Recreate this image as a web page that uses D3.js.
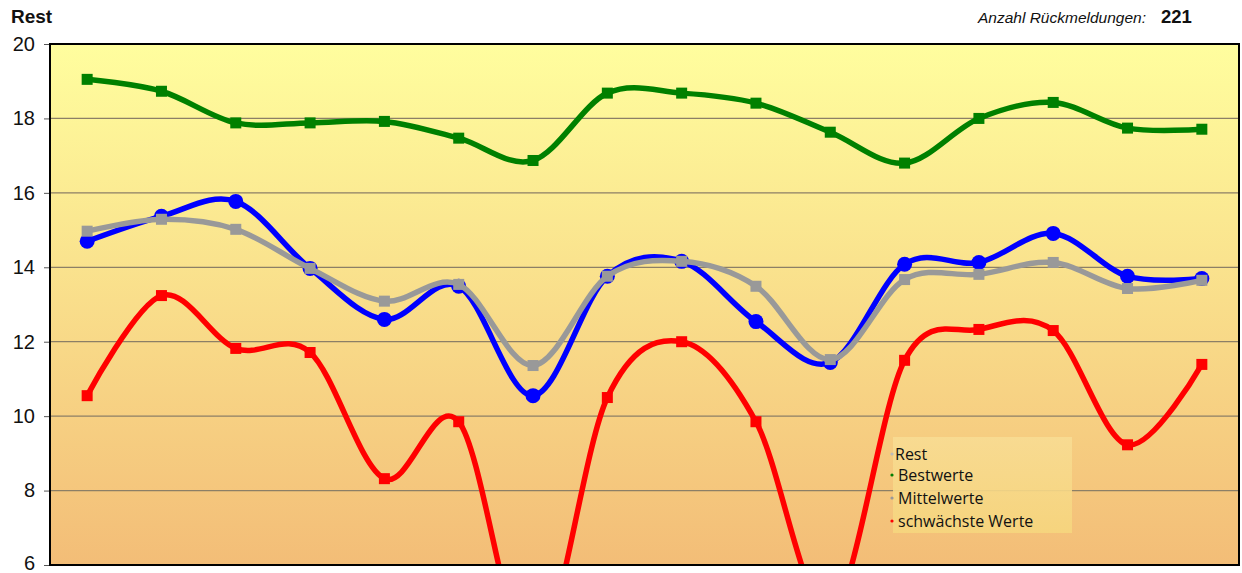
<!DOCTYPE html>
<html><head><meta charset="utf-8">
<script src="https://cdn.jsdelivr.net/npm/d3@7"></script>
<style>body{margin:0;background:#fff}svg{display:block}</style>
</head><body>
<svg id="c" width="1242" height="573"></svg>
<script>
const categories = ["1","2","3","4","5","6","7","8","9","10","11","12","13","14","15","16"];
const bestwerte   = [19.05,18.73,17.88,17.88,17.92,17.47,16.87,18.68,18.68,18.41,17.63,16.8,18.0,18.43,17.74,17.71];
const rest        = [14.7,15.37,15.77,13.97,12.6,13.49,10.55,13.76,14.16,12.54,11.44,14.08,14.13,14.91,13.76,13.7];
const mittelwerte = [14.97,15.29,15.02,13.97,13.09,13.54,11.36,13.76,14.16,13.49,11.52,13.67,13.81,14.13,13.43,13.65];
const schwaechste = [10.55,13.24,11.82,11.71,8.32,9.85,3.5,10.5,12.0,9.85,4.75,11.5,12.33,12.3,9.23,11.39];
const yTicks = [6,8,10,12,14,16,18,20];
const legendLabels = ["Rest","Bestwerte","Mittelwerte","schwächste Werte"];

const svg = d3.select("#c");
const L=50, R=1239, T=44, B=565;
const x = d3.scalePoint().domain(categories).range([L,R]).padding(0.5);
const y = d3.scaleLinear().domain([6,20]).range([B,T]);

const defs = svg.append("defs");
const g1 = defs.append("linearGradient").attr("id","bg").attr("x1",0).attr("y1",0).attr("x2",0).attr("y2",1);
g1.append("stop").attr("offset","0%").attr("stop-color","#FFFE9E");
g1.append("stop").attr("offset","100%").attr("stop-color","#F3BD77");
const g2 = defs.append("linearGradient").attr("id","lg").attr("x1",0).attr("y1",0).attr("x2",0).attr("y2",1);
g2.append("stop").attr("offset","0%").attr("stop-color","#F8DC93");
g2.append("stop").attr("offset","100%").attr("stop-color","#F6D67E");
defs.append("clipPath").attr("id","clip").append("rect").attr("x",L).attr("y",T).attr("width",R-L).attr("height",B-T);

svg.append("rect").attr("x",L).attr("y",T).attr("width",R-L).attr("height",B-T).attr("fill","url(#bg)");

// grid
svg.append("g").selectAll("line").data(yTicks.filter(v=>v>6&&v<20)).join("line")
  .attr("x1",L).attr("x2",R).attr("y1",d=>y(d)).attr("y2",d=>y(d))
  .attr("stroke","#8C7F66").attr("stroke-width",1.3);

// y axis
const ax = svg.append("g").attr("transform",`translate(${L},0)`)
  .call(d3.axisLeft(y).tickValues(yTicks).tickSize(6).tickPadding(6));
ax.select(".domain").remove();
ax.selectAll(".tick line").attr("stroke","#555");
ax.selectAll("text").attr("font-family","Liberation Sans, Arial, sans-serif").attr("font-size",20).attr("fill","#111").attr("dx",-3)
  .attr("dy",d=>d===6?"0.2em":"0.32em");

const plot = svg.append("g").attr("clip-path","url(#clip)");
const line = d3.line().x((d,i)=>x(categories[i])).y(d=>y(d)).curve(d3.curveCardinal.tension(0));

const series = [
  {vals:bestwerte, color:"#008000", mark:"sq", size:11},
  {vals:rest, color:"#0000FF", mark:"circ", size:7.5},
  {vals:mittelwerte, color:"#999999", mark:"sq", size:11},
  {vals:schwaechste, color:"#FF0000", mark:"sq", size:11}
];
series.forEach(s=>{
  const g = plot.append("g");
  g.append("path").datum(s.vals).attr("d",line).attr("fill","none").attr("stroke",s.color).attr("stroke-width",5.5).attr("stroke-linejoin","round");
  if(s.mark==="sq"){
    g.selectAll("rect").data(s.vals).join("rect")
      .attr("x",(d,i)=>x(categories[i])-s.size/2).attr("y",d=>y(d)-s.size/2)
      .attr("width",s.size).attr("height",s.size).attr("fill",s.color);
  } else {
    g.selectAll("circle").data(s.vals).join("circle")
      .attr("cx",(d,i)=>x(categories[i])).attr("cy",d=>y(d)).attr("r",s.size).attr("fill",s.color);
  }
});

// frame
svg.append("rect").attr("x",L).attr("y",T).attr("width",R-L).attr("height",B-T)
  .attr("fill","none").attr("stroke","#000").attr("stroke-width",2);

// titles
svg.append("text").attr("x",11).attr("y",23).text("Rest")
  .attr("font-family","Liberation Sans, Arial, sans-serif").attr("font-weight","bold").attr("font-size",19).attr("fill","#111");
svg.append("text").attr("x",1146).attr("y",23).attr("text-anchor","end").text("Anzahl Rückmeldungen:")
  .attr("font-family","Liberation Sans, Arial, sans-serif").attr("font-style","italic").attr("font-size",15.5).attr("fill","#111");
svg.append("text").attr("x",1161).attr("y",23).text("221")
  .attr("font-family","Liberation Sans, Arial, sans-serif").attr("font-weight","bold").attr("font-size",18.5).attr("fill","#111");

// legend
const lg = svg.append("g");
lg.append("rect").attr("x",893).attr("y",437).attr("width",179).attr("height",96).attr("fill","url(#lg)").attr("opacity",0.9);
const lcol = ["#bbbbbb","#008000","#999999","#FF0000"];
legendLabels.forEach((t,i)=>{
  const yy = [460,481,504,527][i];
  lg.append("circle").attr("cx",892).attr("cy",yy-6).attr("r",1.6).attr("fill",lcol[i]);
  lg.append("text").attr("x",i===0?895:898).attr("y",yy).text(t)
    .attr("font-family","Open Sans, Lato, sans-serif").attr("font-size",16).attr("fill","#111");
});
</script>
</body></html>
